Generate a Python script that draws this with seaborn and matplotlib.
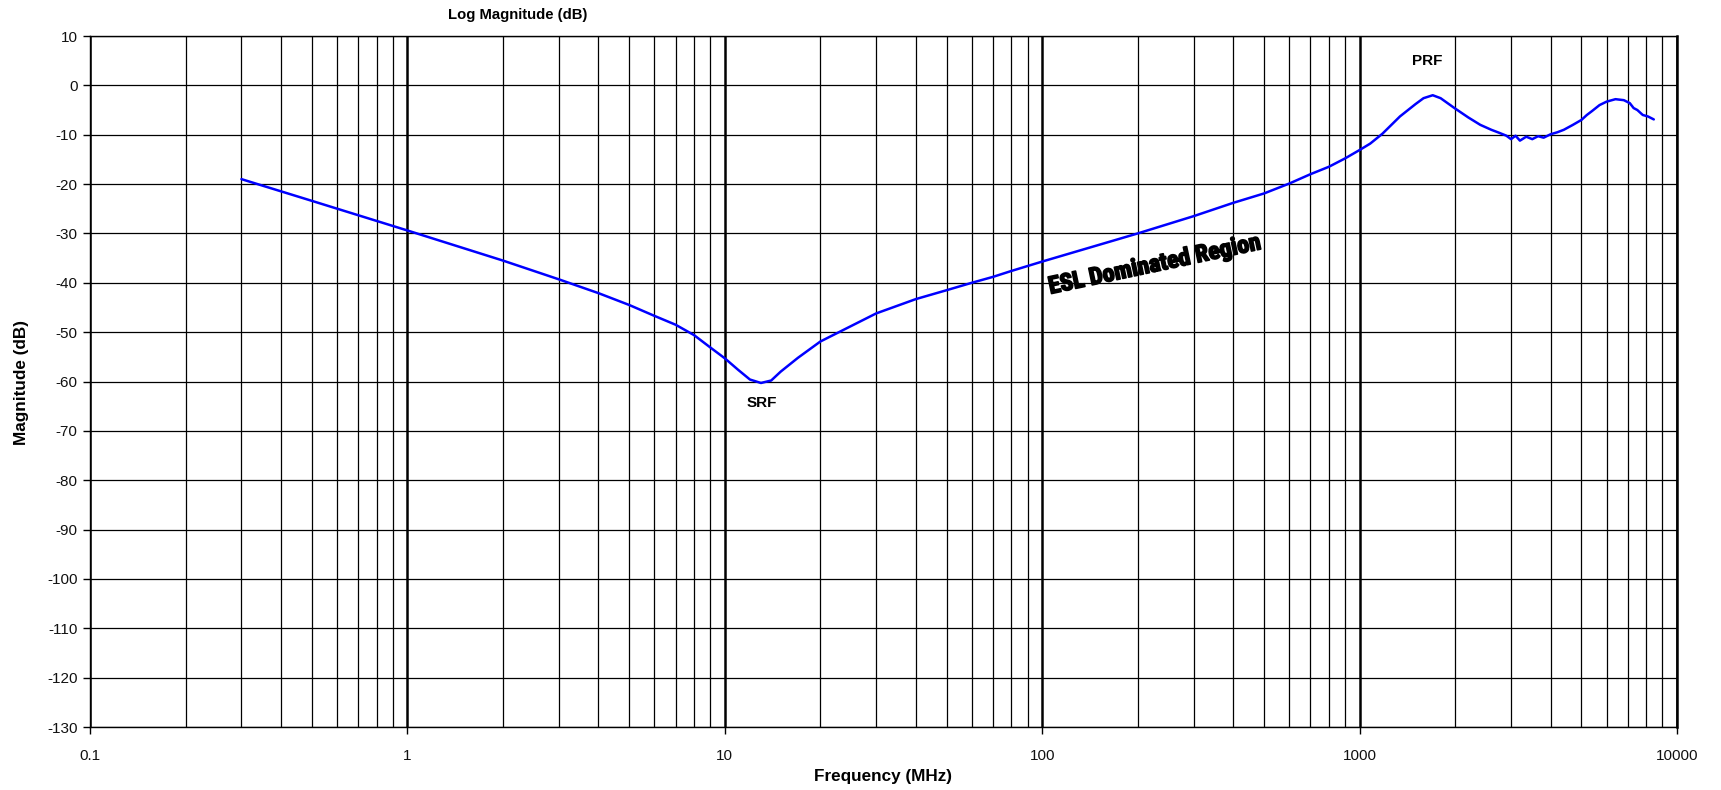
import numpy as np
import pandas as pd
import matplotlib
matplotlib.use("Agg")
import matplotlib.pyplot as plt
import matplotlib.ticker as mticker
import matplotlib.patheffects as pe
from matplotlib import font_manager
import seaborn as sns

# --- data ---
freq_mhz = [0.3, 0.5, 1, 2, 3, 4, 5, 6, 7, 8,
            9, 10, 11, 12, 13, 14, 15, 17, 20, 30,
            40, 50, 60, 70, 80, 100, 200, 300, 400, 500,
            600, 700, 800, 900, 1000, 1080, 1180, 1340, 1500, 1590,
            1700, 1800, 1990, 2200, 2400, 2600, 2750, 2900, 3000, 3100,
            3200, 3350, 3500, 3650, 3800, 4000, 4200, 4400, 4700, 5000,
            5200, 5400, 5700, 6000, 6400, 6800, 7100, 7300, 7500, 7800,
            8100, 8450]
mag_db = [-19, -23.4, -29.4, -35.5, -39.3, -42.1, -44.5, -46.7, -48.5, -50.6,
          -53.1, -55.3, -57.6, -59.6, -60.3, -59.8, -58.0, -55.2, -51.9, -46.2,
          -43.3, -41.5, -40.0, -38.8, -37.6, -35.7, -30.0, -26.5, -23.8, -21.9,
          -19.9, -18.0, -16.5, -14.8, -13.1, -11.8, -9.8, -6.3, -3.8, -2.6,
          -2.0, -2.6, -4.6, -6.5, -8.0, -9.0, -9.6, -10.2, -10.9, -10.2,
          -11.2, -10.4, -10.9, -10.3, -10.6, -9.9, -9.5, -9.0, -8.0, -7.0,
          -6.0, -5.2, -4.0, -3.3, -2.8, -3.0, -3.6, -4.6, -5.0, -6.0,
          -6.3, -6.9]

x_ticks = [0.1, 1, 10, 100, 1000, 10000]
x_labels = ["0.1", "1", "10", "100", "1000", "10000"]
y_ticks = list(range(-130, 11, 10))

annotations = [("SRF", 13.1, -64.4), ("PRF", 1630, 4.9)]

df = pd.DataFrame({"freq": freq_mhz, "mag": mag_db})

sns.set_theme(style="white")
plt.rcParams["font.family"] = ["Liberation Sans", "DejaVu Sans"]
plt.rcParams["axes.unicode_minus"] = False
plt.rcParams["text.color"] = "black"

fig = plt.figure(figsize=(17.21, 7.90), dpi=100)
ax = fig.add_axes([90 / 1721, 1 - 727 / 790, (1677 - 90) / 1721, (727 - 36) / 790])

sns.lineplot(data=df, x="freq", y="mag", ax=ax, color="#0000ff", lw=1.8, sort=False)

ax.set_xscale("log")
ax.set_xlim(0.1, 10000)
ax.set_ylim(-130, 10)
ax.set_xticks(x_ticks)
ax.set_xticklabels(x_labels)
ax.xaxis.set_minor_locator(mticker.LogLocator(base=10, subs=np.arange(2, 10)))
ax.xaxis.set_minor_formatter(mticker.NullFormatter())
ax.set_yticks(y_ticks)
ax.set_yticklabels([str(v) for v in y_ticks])

ax.grid(which="major", axis="x", color="black", lw=1.8)
ax.grid(which="minor", axis="x", color="black", lw=0.9)
ax.grid(which="major", axis="y", color="black", lw=0.9)
ax.set_axisbelow(True)

for side in ["left", "bottom", "top"]:
    ax.spines[side].set_color("black")
    ax.spines[side].set_linewidth(1.0)
ax.spines["right"].set_color("black")
ax.spines["right"].set_linewidth(1.8)

ax.tick_params(axis="x", which="major", bottom=True, length=5, width=1, color="black",
               labelsize=11, pad=11, labelcolor="#111111")
ax.tick_params(axis="x", which="minor", bottom=False, length=0)
ax.tick_params(axis="y", left=True, length=5, width=1, color="black",
               labelsize=11, pad=4, labelcolor="#111111")

ax.set_xlabel("")
ax.set_ylabel("")
fig.text(883 / 1721, 1 - 777 / 790, "Frequency (MHz)", ha="center", va="center",
         fontsize=12.3, fontweight="bold")
fig.text(22 / 1721, 1 - 383 / 790, "Magnitude (dB)", ha="center", va="center",
         rotation=90, fontsize=12.3, fontweight="bold")
fig.text(518 / 1721, 1 - 15 / 790, "Log Magnitude (dB)", ha="center", va="center",
         fontsize=10.7, fontweight="bold")

for label, fx, fy in annotations:
    ax.text(fx, fy, label, ha="center", va="center", fontsize=11, fontweight="bold")

# condensed heavy font for the region label, if one is installed
installed = {f.name for f in font_manager.fontManager.ttflist}
esl_family = "Liberation Sans"
for name in ["Roboto Condensed", "Liberation Sans Narrow", "Open Sans Condensed",
             "DejaVu Sans Condensed"]:
    if name in installed:
        esl_family = name
        break

esl = ax.text(226, -36.4, "ESL Dominated Region", ha="center", va="center",
              fontsize=18, fontweight="bold", family=esl_family, color="black",
              path_effects=[pe.withStroke(linewidth=1.2, foreground="black")])
fig.canvas.draw()
w = esl.get_window_extent(fig.canvas.get_renderer()).width
esl.set_fontsize(18 * 216 / w)
esl.set_rotation(12)

fig.savefig("out.png", dpi=100)
